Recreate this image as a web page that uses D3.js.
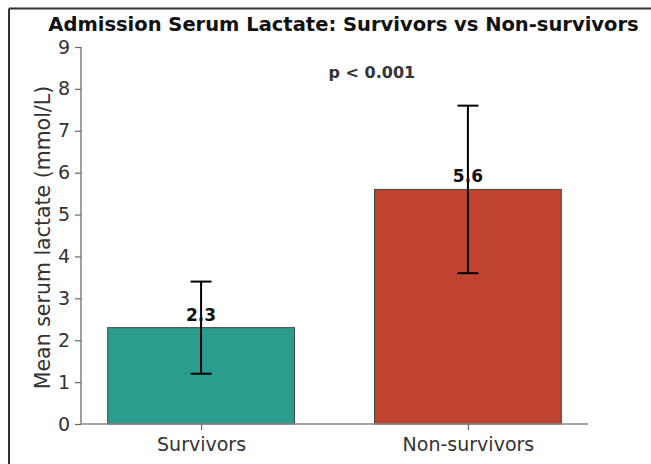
<!DOCTYPE html>
<html>
<head>
<meta charset="utf-8">
<script src="https://cdn.jsdelivr.net/npm/d3@7"></script>
<style>
  body { margin: 0; background: #fff; }
  text { font-family: "DejaVu Sans", sans-serif; }
</style>
</head>
<body>
<div id="chart"></div>
<script>
// data
const groups = ['Survivors', 'Non-survivors'];
const means = [2.3, 5.6];
const errLow = [1.2, 3.6];
const errHigh = [3.4, 7.6];
const barColors = ['#2a9d8f', '#c0432f'];
const yTicks = [0, 1, 2, 3, 4, 5, 6, 7, 8, 9];
const pLabel = 'p < 0.001';

const W = 651, H = 464;
const margin = { top: 47, right: 63, bottom: 40, left: 81 };
const width = W - margin.left - margin.right;
const height = H - margin.top - margin.bottom;

const root = d3.select('#chart').append('svg')
  .attr('width', W)
  .attr('height', H);

// outer frame (top + left edge visible in the reference)
root.append('line')
  .attr('x1', 9).attr('x2', W).attr('y1', 8.5).attr('y2', 8.5)
  .attr('stroke', '#333').attr('stroke-width', 2);
root.append('line')
  .attr('x1', 9).attr('x2', 9).attr('y1', 8.5).attr('y2', H)
  .attr('stroke', '#333').attr('stroke-width', 2);

const svg = root.append('g')
  .attr('transform', `translate(${margin.left},${margin.top})`);

// x is continuous like matplotlib category positions 0,1
const x = d3.scaleLinear().domain([-0.45, 1.45]).range([0, width]);
const y = d3.scaleLinear().domain([0, 9]).range([height, 0]);
const barW = x(0.35) - x(0);

// bars
svg.selectAll('.bar')
  .data(groups)
  .enter().append('rect')
  .attr('class', 'bar')
  .attr('x', (d, i) => x(i) - barW)
  .attr('width', barW * 2)
  .attr('y', (d, i) => y(means[i]))
  .attr('height', (d, i) => height - y(means[i]))
  .attr('fill', (d, i) => barColors[i])
  .attr('stroke', '#444')
  .attr('stroke-width', 1);

// error bars
const capHalf = 10.5;
const eb = svg.selectAll('.err')
  .data(groups)
  .enter().append('g')
  .attr('class', 'err')
  .attr('stroke', '#000')
  .attr('stroke-width', 2);
eb.append('line')
  .attr('x1', (d, i) => x(i)).attr('x2', (d, i) => x(i))
  .attr('y1', (d, i) => y(errLow[i])).attr('y2', (d, i) => y(errHigh[i]));
eb.append('line')
  .attr('x1', (d, i) => x(i) - capHalf).attr('x2', (d, i) => x(i) + capHalf)
  .attr('y1', (d, i) => y(errLow[i])).attr('y2', (d, i) => y(errLow[i]));
eb.append('line')
  .attr('x1', (d, i) => x(i) - capHalf).attr('x2', (d, i) => x(i) + capHalf)
  .attr('y1', (d, i) => y(errHigh[i])).attr('y2', (d, i) => y(errHigh[i]));

// value labels
svg.selectAll('.bar-text')
  .data(groups)
  .enter().append('text')
  .attr('class', 'bar-text')
  .attr('text-anchor', 'middle')
  .attr('x', (d, i) => x(i))
  .attr('y', (d, i) => y(means[i]) - 7)
  .style('font-size', '17px')
  .style('font-weight', 'bold')
  .style('fill', '#111')
  .text((d, i) => means[i].toFixed(1));

// axes
const yAxis = svg.append('g')
  .call(d3.axisLeft(y).tickValues(yTicks).tickSize(6).tickPadding(5));
const xAxis = svg.append('g')
  .attr('transform', `translate(0,${height})`)
  .call(d3.axisBottom(x).tickValues([0, 1]).tickFormat(i => groups[i]).tickSize(6).tickPadding(8));

[xAxis, yAxis].forEach(a => {
  a.select('.domain').attr('stroke', '#888').attr('stroke-width', 1.6);
  a.selectAll('.tick line').attr('stroke', '#666').attr('stroke-width', 1.2);
  a.selectAll('.tick text')
    .style('font-family', '"DejaVu Sans", sans-serif')
    .style('font-size', '19px')
    .style('fill', '#333');
});
// drop the outer tick stubs on the domain ends
xAxis.select('.domain').attr('d', `M0,0H${width}`);
yAxis.select('.domain').attr('d', `M0,${height}V0`);

// y label
svg.append('text')
  .attr('transform', 'rotate(-90)')
  .attr('x', -height / 2 - 2)
  .attr('y', 43 - margin.left)
  .attr('dy', '0.35em')
  .attr('text-anchor', 'middle')
  .style('font-size', '20.5px')
  .style('fill', '#333')
  .text('Mean serum lactate (mmol/L)');

// p value
svg.append('text')
  .attr('x', x(0.64))
  .attr('y', y(8.27))
  .attr('text-anchor', 'middle')
  .style('font-size', '16px')
  .style('font-weight', 'bold')
  .style('fill', '#333')
  .text(pLabel);

// title
root.append('text')
  .attr('x', 343.5)
  .attr('y', 31)
  .attr('text-anchor', 'middle')
  .style('font-size', '19.5px')
  .style('font-weight', 'bold')
  .style('fill', '#111')
  .text('Admission Serum Lactate: Survivors vs Non-survivors');
</script>
</body>
</html>
